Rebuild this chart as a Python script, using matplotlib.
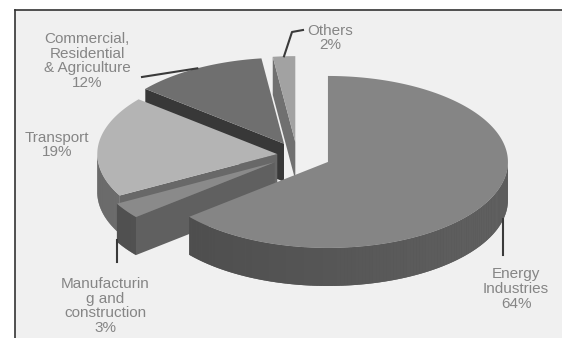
import numpy as np
import matplotlib.pyplot as plt
from matplotlib.patches import Polygon, Rectangle
from matplotlib.colors import to_rgb

# data, clockwise from 12 o'clock
labels = ['Energy\nIndustries\n64%', 'Manufacturin\ng and\nconstruction\n3%', 'Transport\n19%',
          'Commercial,\nResidential\n& Agriculture\n12%', 'Others\n2%']
shares = [64, 3, 19, 12, 2]
explode = [0.19, 0.15, 0.11, 0.15, 0.15]

# colours: top face, outer wall, cut face
top_col = ['#858585', '#8a8a8a', '#b4b4b4', '#6f6f6f', '#a2a2a2']
wall_col = ['#565656', '#595959', '#767676', '#3a3a3a', '#6a6a6a']
cut_col = ['#575757', '#606060', '#686868', '#383838', '#707070']

# pie geometry in pixels
cx, cy = 297, 155
rx, ry = 180, 86
depth = 38

fig = plt.figure(figsize=(5.62, 3.38), dpi=100)
ax = fig.add_axes([0, 0, 1, 1])
ax.set_xlim(0, 562)
ax.set_ylim(338, 0)
ax.axis('off')

ax.add_patch(Rectangle((15, 10), 560, 340, facecolor='#f0f0f0', edgecolor='none', zorder=0))
ax.plot([15, 15], [338, 10], color='#333333', lw=1.2, zorder=1)
ax.plot([15, 562], [10, 10], color='#333333', lw=1.2, zorder=1)


def pt(ox, oy, t, dz=0):
    return (ox + rx * np.cos(t), oy - ry * np.sin(t) + dz)


# angles (counter clockwise) for each slice
ends = 90 - np.cumsum([0] + shares[:-1]) * 3.6
starts = ends - np.array(shares) * 3.6
centres = []
for i in range(len(shares)):
    a1, a2 = np.radians(starts[i]), np.radians(ends[i])
    mid = (a1 + a2) / 2
    ox = cx + explode[i] * rx * np.cos(mid)
    oy = cy - explode[i] * ry * np.sin(mid)
    centres.append((ox, oy, a1, a2))

order = [4, 3, 2, 1, 0]
for k, i in enumerate(order):
    ox, oy, a1, a2 = centres[i]
    z = 2 + k * 4
    # cut faces that face the viewer
    for a, vis in ((a2, np.cos(a2) < -1e-6), (a1, np.cos(a1) > 1e-6)):
        if vis:
            p = pt(ox, oy, a)
            ax.add_patch(Polygon([(ox, oy), p, (p[0], p[1] + depth), (ox, oy + depth)],
                                 closed=True, facecolor=cut_col[i], edgecolor='none', zorder=z))
    # outer wall on the front half, a little lighter towards the right
    t = np.linspace(a1, a2, 200)
    t = t[np.sin(t) <= 0.01]
    if len(t) > 1:
        upper = [pt(ox, oy, a) for a in t]
        lower = [pt(ox, oy, a, depth) for a in t[::-1]]
        ax.add_patch(Polygon(upper + lower, closed=True, facecolor=wall_col[i],
                             edgecolor='none', zorder=z + 1))
        base = np.array(to_rgb(wall_col[i]))
        for j in range(len(t) - 1):
            shade = np.clip(base * (1 + 0.12 * np.cos(t[j])), 0, 1)
            quad = [pt(ox, oy, t[j]), pt(ox, oy, t[j + 1]),
                    pt(ox, oy, t[j + 1], depth), pt(ox, oy, t[j], depth)]
            ax.add_patch(Polygon(quad, closed=True, facecolor=shade, edgecolor='none',
                                 zorder=z + 2))
    # top face
    t = np.linspace(a1, a2, 200)
    ax.add_patch(Polygon([(ox, oy)] + [pt(ox, oy, a) for a in t], closed=True,
                         facecolor=top_col[i], edgecolor='none', zorder=z + 3))

# labels
lab_pos = [(516, 289), (105, 306), (57, 145), (87, 61), (330, 38)]
for i, lab in enumerate(labels):
    ax.text(lab_pos[i][0], lab_pos[i][1], lab, ha='center', va='center',
            multialignment='center', fontsize=11, color='#858585',
            family='Liberation Sans', linespacing=1.05, zorder=30)

# leader lines
lc = '#3a3a3a'
ox, oy, a1, a2 = centres[0]
s = pt(ox, oy, np.radians(-14), depth)
ax.plot([s[0], s[0]], [s[1] - 2, 255], color=lc, lw=1.5, zorder=31)
ox, oy, a1, a2 = centres[1]
s = pt(ox, oy, a1, depth)
ax.plot([s[0], s[0]], [s[1] - 2, 262], color=lc, lw=1.5, zorder=31)
ox, oy, a1, a2 = centres[3]
s = pt(ox, oy, (a1 + a2) / 2)
ax.plot([s[0], 142], [s[1], 77], color=lc, lw=1.5, zorder=31)
ox, oy, a1, a2 = centres[4]
s = pt(ox, oy, (a1 + a2) / 2)
ax.plot([s[0], 292, 303], [s[1], 32, 30], color=lc, lw=1.5, zorder=31)

fig.savefig('out.png', dpi=100, facecolor='white')
